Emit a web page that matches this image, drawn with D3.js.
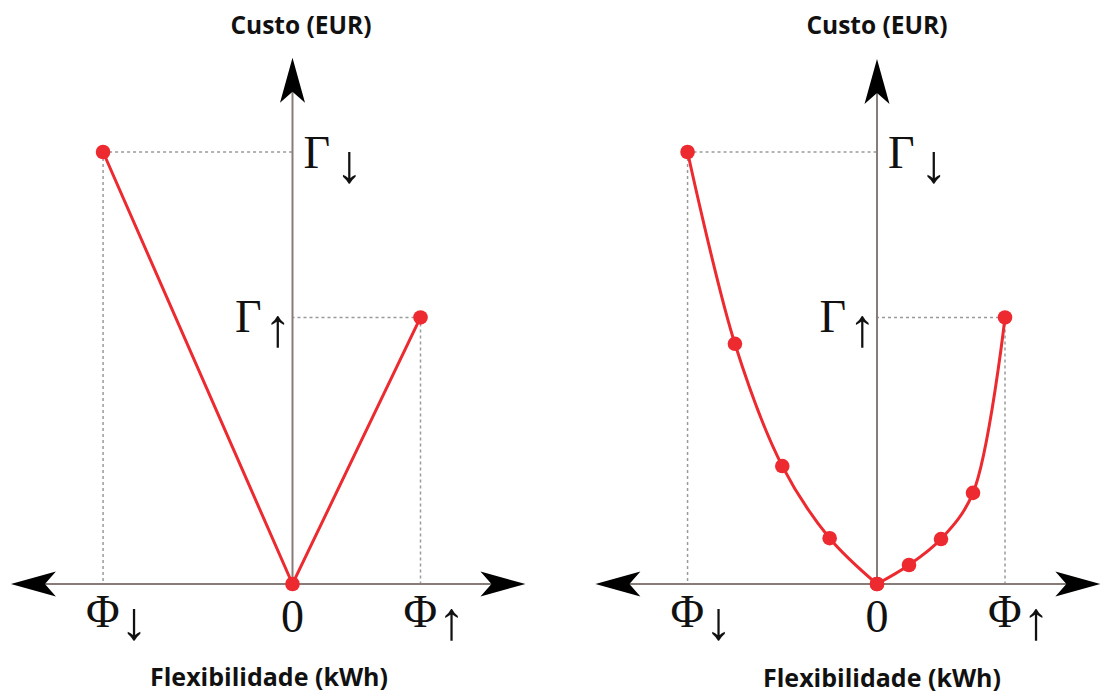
<!DOCTYPE html>
<html><head><meta charset="utf-8">
<script src="https://cdn.jsdelivr.net/npm/d3@7"></script>
<style>body{margin:0;background:#fff}svg{display:block}</style>
</head><body><svg id="c" width="1102" height="694"></svg>
<script>
// ---- data ----
const xTickValues = [-1.48, 0, 1];
const xTickMain = ["Φ", "0", "Φ"];
const xTickSub = ["↓", "", "↑"];
const yTickValues = [1, 0.617];
const yTickMain = ["Γ", "Γ"];
const yTickSub = ["↓", "↑"];

const linearX = [-1.48, 0, 1];
const linearY = [1, 0, 0.617];

const convexLeftX = [-1.48, -1.11, -0.74, -0.37, 0];
const convexLeftY = [1, 0.556, 0.273, 0.106, 0];
const convexRightX = [0, 0.25, 0.5, 0.75, 1];
const convexRightY = [0, 0.044, 0.104, 0.211, 0.617];

const yTitle = "Custo (EUR)";
const xTitle = "Flexibilidade (kWh)";

// ---- layout ----
const svg = d3.select("#c");
const RED = "#ec2a30", AXIS = "#877d78", GUIDE = "#9a9a9a";
const unitX = 128, unitY = 432, originY = 584;
const SERIF = "'Liberation Serif', 'Times New Roman', serif";

const panels = [
  {ox: 292.5, xExt: [-2.2, 1.82], yTop: 1.218, titleX: 301, xTitleX: 269, xTitleY: 686,
   series: [{x: linearX, y: linearY, curve: d3.curveLinear}]},
  {ox: 877, xExt: [-2.2, 1.745], yTop: 1.215, titleX: 877, xTitleX: 882, xTitleY: 687,
   series: [{x: convexLeftX, y: convexLeftY, curve: d3.curveCatmullRom.alpha(0.5)},
            {x: convexRightX, y: convexRightY, curve: d3.curveCatmullRom.alpha(0.5)}]}
];

function arrowHead(g, tx, ty, angle) {
  const L = 45, H = 12.5, N = 34;
  g.append("path")
    .attr("d", `M0,0 L${-L},${-H} L${-N},0 L${-L},${H} Z`)
    .attr("transform", `translate(${tx},${ty}) rotate(${angle})`)
    .attr("fill", "#000");
}

panels.forEach(p => {
  const x = d3.scaleLinear().domain([0, 1]).range([p.ox, p.ox + unitX]);
  const y = d3.scaleLinear().domain([0, 1]).range([originY, originY - unitY]);
  const g = svg.append("g");

  // guide lines
  xTickValues.forEach((v, i) => {
    if (v === 0) return;
    const yv = v < 0 ? yTickValues[0] : yTickValues[1];
    g.append("line").attr("x1", x(v)).attr("x2", x(0)).attr("y1", y(yv)).attr("y2", y(yv))
      .attr("stroke", GUIDE).attr("stroke-width", 1.5).attr("stroke-dasharray", "3,3");
    g.append("line").attr("x1", x(v)).attr("x2", x(v)).attr("y1", y(yv)).attr("y2", y(0))
      .attr("stroke", GUIDE).attr("stroke-width", 1.5).attr("stroke-dasharray", "3,3");
  });

  // axes
  g.append("line").attr("x1", x(p.xExt[0]) + 30).attr("x2", x(p.xExt[1]) - 30)
    .attr("y1", y(0)).attr("y2", y(0)).attr("stroke", AXIS).attr("stroke-width", 2);
  g.append("line").attr("x1", x(0)).attr("x2", x(0))
    .attr("y1", y(0)).attr("y2", y(p.yTop) + 30).attr("stroke", AXIS).attr("stroke-width", 2);
  arrowHead(g, x(p.xExt[0]), y(0), 180);
  arrowHead(g, x(p.xExt[1]), y(0), 0);
  arrowHead(g, x(0), y(p.yTop), -90);

  // series
  p.series.forEach(s => {
    const pts = s.x.map((xv, i) => [xv, s.y[i]]);
    g.append("path").datum(pts)
      .attr("d", d3.line().x(d => x(d[0])).y(d => y(d[1])).curve(s.curve))
      .attr("fill", "none").attr("stroke", RED).attr("stroke-width", 3);
    g.selectAll(null).data(pts).join("circle")
      .attr("cx", d => x(d[0])).attr("cy", d => y(d[1])).attr("r", 7.3).attr("fill", RED);
  });

  // x tick labels
  xTickValues.forEach((v, i) => {
    const t = g.append("text").attr("font-family", SERIF)
      .attr("font-size", 46).attr("fill", "#111");
    if (xTickSub[i]) {
      t.attr("x", x(v) - 17).attr("y", 627);
      t.append("tspan").text(xTickMain[i]);
      t.append("tspan").attr("font-size", 54).attr("dx", 1).attr("dy", 12).text(xTickSub[i]);
    } else {
      t.attr("x", x(v)).attr("y", 632).attr("text-anchor", "middle").text(xTickMain[i]);
    }
  });

  // y tick labels
  yTickValues.forEach((v, i) => {
    const t = g.append("text").attr("font-family", SERIF)
      .attr("font-size", 46).attr("fill", "#111");
    if (i === 0) {
      t.attr("x", x(0) + 11).attr("y", y(v) + 16);
    } else {
      t.attr("x", x(0) - 1).attr("y", y(v) + 15).attr("text-anchor", "end");
    }
    t.append("tspan").text(yTickMain[i]);
    t.append("tspan").attr("font-size", 54).attr("dx", i === 0 ? 6 : 3).attr("dy", 14).text(yTickSub[i]);
  });

  // titles
  g.append("text").attr("x", p.titleX).attr("y", 34).attr("text-anchor", "middle")
    .attr("font-family", "'Open Sans', sans-serif").attr("font-weight", 700)
    .attr("font-size", 24.5).attr("fill", "#111").text(yTitle);
  g.append("text").attr("x", p.xTitleX).attr("y", p.xTitleY).attr("text-anchor", "middle")
    .attr("font-family", "'Open Sans', sans-serif").attr("font-weight", 700)
    .attr("font-size", 25).attr("fill", "#111").text(xTitle);
});
</script>
</body></html>
